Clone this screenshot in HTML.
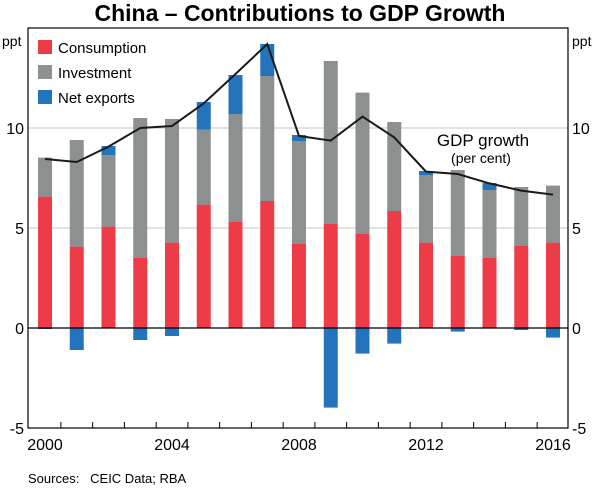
<!DOCTYPE html>
<html><head><meta charset="utf-8"><style>
body{margin:0;background:#fff;font-family:"Liberation Sans",Arial,sans-serif}
svg text{font-family:"Liberation Sans",Arial,sans-serif}
</style></head><body>
<svg width="600" height="488" viewBox="0 0 600 488" xmlns="http://www.w3.org/2000/svg">
<text x="300" y="21" text-anchor="middle" font-size="23" font-weight="bold" fill="#000">China – Contributions to GDP Growth</text>
<g id="grid"></g>
<g id="bars"></g>
<g id="line"></g>
<rect x="28" y="28" width="540" height="400" fill="none" stroke="#000" stroke-width="1.2"/>
<text x="2" y="46" font-size="14">ppt</text>
<text x="572" y="46" font-size="14">ppt</text>
<g id="axes"></g>
<g>
<rect x="38" y="40" width="14" height="14" fill="#ee3b48"/>
<text x="58" y="53" font-size="15">Consumption</text>
<rect x="38" y="65" width="14" height="14" fill="#8d9091"/>
<text x="58" y="78" font-size="15">Investment</text>
<rect x="38" y="90" width="14" height="14" fill="#2473bd"/>
<text x="58" y="103" font-size="15">Net exports</text>
</g>
<text x="483" y="146" text-anchor="middle" font-size="17">GDP growth</text>
<text x="481" y="163" text-anchor="middle" font-size="14">(per cent)</text>
<text x="28" y="483" font-size="13">Sources:&#160;&#160; CEIC Data; RBA</text>
</svg>
<script>
const years=[2000,2001,2002,2003,2004,2005,2006,2007,2008,2009,2010,2011,2012,2013,2014,2015,2016];
const consumption=[6.57,4.07,5.07,3.52,4.27,6.17,5.32,6.35,4.22,5.22,4.72,5.85,4.27,3.62,3.52,4.12,4.27];
const investment=[1.95,5.33,3.58,6.98,6.18,3.75,5.38,6.25,5.13,8.13,7.05,4.45,3.38,4.28,3.38,2.93,2.85];
const netExports=[-0.05,-1.1,0.45,-0.6,-0.4,1.38,1.95,1.6,0.3,-3.98,-1.28,-0.78,0.2,-0.18,0.35,-0.1,-0.48];
const gdpGrowth=[8.45,8.3,9.07,10.0,10.1,11.23,12.7,14.2,9.6,9.37,10.57,9.53,7.82,7.7,7.23,6.87,6.67];
const yTicks=[-5,0,5,10];
const xLabelYears=[2000,2004,2008,2012,2016];

const NS="http://www.w3.org/2000/svg";
const y=v=>328-v*20;
const x=yr=>45+(yr-2000)*31.75;
const BW=14;
function mk(tag,attrs,parent){const e=document.createElementNS(NS,tag);for(const k in attrs)e.setAttribute(k,attrs[k]);parent.appendChild(e);return e;}
const grid=document.getElementById('grid'),bars=document.getElementById('bars'),line=document.getElementById('line'),axes=document.getElementById('axes');
yTicks.forEach(t=>{
  if(t>0){const g=mk('line',{x1:28,x2:568,y1:y(t),y2:y(t),stroke:'#c4c4c4','stroke-width':1},grid);
  
  }
  const l=mk('text',{x:24,y:y(t)+6,'text-anchor':'end','font-size':16},axes);l.textContent=t;
  
  
  const r=mk('text',{x:572,y:y(t)+6,'font-size':16},axes);r.textContent=t;
  
  
});
years.forEach((yr,i)=>{
  const cx=x(yr),c=consumption[i],inv=investment[i],nx=netExports[i];
  const cr=mk('rect',{x:cx-BW/2,y:y(c),width:BW,height:c*20,fill:'#ee3b48'},bars);
  
  
  const ir=mk('rect',{x:cx-BW/2,y:y(c+inv),width:BW,height:inv*20,fill:'#8d9091'},bars);
  
  
  let ny,nh;
  if(nx>=0){ny=y(c+inv+nx);nh=nx*20;}else{ny=y(0);nh=-nx*20;}
  const nr=mk('rect',{x:cx-BW/2,y:ny,width:BW,height:nh,fill:'#2473bd'},bars);
  
  
  if(i<years.length-1){const tk=mk('line',{x1:cx+15.9,x2:cx+15.9,y1:422,y2:428,stroke:'#000'},axes);
  
  }
});
const zl=mk('line',{x1:28,x2:568,y1:y(0),y2:y(0),stroke:'#000','stroke-width':1.2},bars);


const pl=mk('polyline',{points:years.map((yr,i)=>x(yr)+','+y(gdpGrowth[i])).join(' '),fill:'none',stroke:'#1a1a1a','stroke-width':2},line);


xLabelYears.forEach(yr=>{
  const t=mk('text',{x:x(yr),y:450,'text-anchor':'middle','font-size':16},axes);t.textContent=yr;
  
  
});
</script>
</body></html>
